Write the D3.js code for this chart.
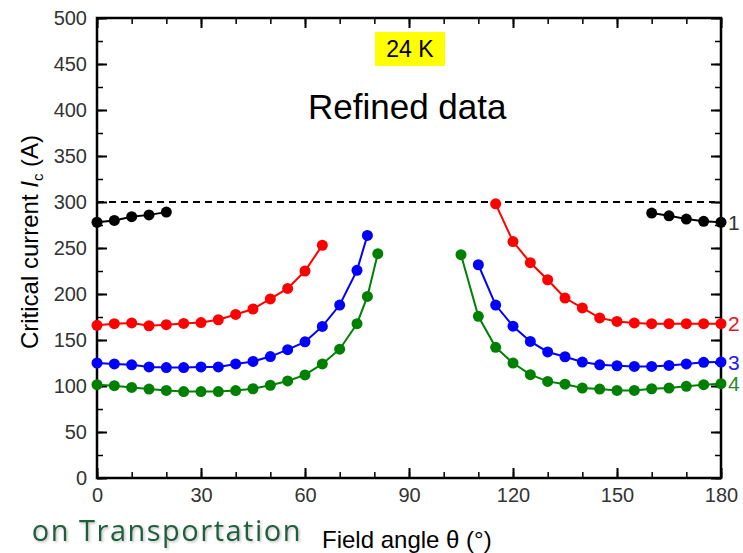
<!DOCTYPE html>
<html lang="en">
<head>
    <meta charset="UTF-8">
    <title>Critical current vs field angle</title>
    <style>
        body { margin: 0; background: #fff; }
        text { font-family: 'Liberation Sans', Arial, sans-serif; }
        .tick text { font-size: 20px; fill: #333; }
        .axis path, .axis line { stroke: #000; }
        .line { fill: none; stroke-width: 2px; }
    </style>
</head>
<body>

<script src="https://d3js.org/d3.v7.min.js"></script>
<script>

    const width = 743;
    const height = 553;
    const box = {'left': 97, 'right': 721, 'top': 18, 'bottom': 478};

    // series 1 (black)
    const angles1a = [0, 5, 10, 15, 20];
    const values1a = [278, 280, 284, 286, 289];
    const angles1b = [160, 165, 170, 175, 180];
    const values1b = [288, 285, 281.5, 279, 278];

    // series 2 (red)
    const angles2a = [0, 5, 10, 15, 20, 25, 30, 35, 40, 45, 50, 55, 60, 65];
    const values2a = [166, 167.7, 168.5, 165.5, 166.6, 168, 169, 172, 177.8, 183.7, 194.6, 206, 225, 253];
    const angles2b = [115, 120, 125, 130, 135, 140, 145, 150, 155, 160, 165, 170, 175, 180];
    const values2b = [298, 257, 234, 215.5, 195.6, 184.8, 174, 170.2, 168.5, 167.7, 167.7, 167.7, 167.7, 167.7];

    // series 3 (blue)
    const angles3a = [0, 5, 10, 15, 20, 25, 30, 35, 40, 45, 50, 55, 60, 65, 70, 75, 78];
    const values3a = [125, 124, 123, 120.7, 120, 120, 120.7, 120.7, 124, 126.7, 132, 139.5, 148, 164.8, 188, 225.7, 263.7];
    const angles3b = [110, 115, 120, 125, 130, 135, 140, 145, 150, 155, 160, 165, 170, 175, 180];
    const values3b = [231.8, 188, 165, 148.5, 137, 131.8, 126, 123, 122, 121.3, 121.3, 122.4, 124, 125.7, 126];

    // series 4 (green)
    const angles4a = [0, 5, 10, 15, 20, 25, 30, 35, 40, 45, 50, 55, 60, 65, 70, 75, 78, 81];
    const values4a = [101.4, 100.3, 98.5, 96.7, 95.2, 94, 94, 94, 95, 97, 100.8, 105.5, 112, 124, 140, 167.7, 197.4, 243.8];
    const angles4b = [105, 110, 115, 120, 125, 130, 135, 140, 145, 150, 155, 160, 165, 170, 175, 180];
    const values4b = [242.7, 175.7, 142, 125, 112.3, 105, 102, 97.8, 96.7, 95.2, 95.2, 97, 97.8, 99.6, 101.4, 102.5];

    const seriesNames = ['1', '2', '3', '4'];
    const seriesColours = ['#000000', '#ff0000', '#0000ff', '#008000'];
    const labelColours = ['#333333', '#e8141c', '#1a1aff', '#2a8a2a'];

    const xTicks = [0, 30, 60, 90, 120, 150, 180];
    const yTicks = [0, 50, 100, 150, 200, 250, 300, 350, 400, 450, 500];
    const limitLine = 300;

    const series = [
        [[angles1a, values1a], [angles1b, values1b]],
        [[angles2a, values2a], [angles2b, values2b]],
        [[angles3a, values3a], [angles3b, values3b]],
        [[angles4a, values4a], [angles4b, values4b]]
    ];

    let svg = d3.select('body').append('svg')
        .attr('width', width)
        .attr('height', height);

    let x = d3.scaleLinear().domain([0, 180]).range([box.left, box.right]);
    let y = d3.scaleLinear().domain([0, 500]).range([box.bottom, box.top]);

    let minorX = d3.range(0, 181, 10);
    let minorY = d3.range(0, 501, 25);

    // ticks point inward on all four sides
    function drawAxis(axis, transform, minor, major, showLabels) {
        let g = svg.append('g')
            .attr('class', 'axis')
            .attr('transform', transform);
        g.call(axis.tickValues(minor).tickSize(6).tickFormat(''));
        g.selectAll('.tick line').attr('stroke-width', 1.5);
        g.select('.domain').remove();
        let g2 = svg.append('g')
            .attr('class', 'axis')
            .attr('transform', transform);
        g2.call(axis.tickValues(major).tickSize(10).tickFormat(showLabels ? d3.format('d') : ''));
        g2.selectAll('.tick line').attr('stroke-width', 2);
        g2.select('.domain').remove();
        return g2;
    }

    let bottomAx = drawAxis(d3.axisTop(x), 'translate(0,' + box.bottom + ')', minorX, xTicks, true);
    bottomAx.selectAll('.tick text').attr('dy', '0.71em').attr('y', 10);
    drawAxis(d3.axisBottom(x), 'translate(0,' + box.top + ')', minorX, xTicks, false);
    let leftAx = drawAxis(d3.axisRight(y), 'translate(' + box.left + ',0)', minorY, yTicks, true);
    leftAx.selectAll('.tick text').attr('text-anchor', 'end').attr('x', -10);
    drawAxis(d3.axisLeft(y), 'translate(' + box.right + ',0)', minorY, yTicks, false);

    // frame
    svg.append('rect')
        .attr('x', box.left)
        .attr('y', box.top)
        .attr('width', box.right - box.left)
        .attr('height', box.bottom - box.top)
        .style('fill', 'none')
        .style('stroke', '#000')
        .style('stroke-width', 2.5);

    // dashed reference line
    svg.append('line')
        .attr('x1', x(0))
        .attr('x2', x(180) - 6)
        .attr('y1', y(limitLine))
        .attr('y2', y(limitLine))
        .style('stroke', '#000')
        .style('stroke-width', 2)
        .style('stroke-dasharray', '7,5');

    let line = d3.line()
        .x(function(d) { return x(d[0]); })
        .y(function(d) { return y(d[1]); });

    for (let s = 0; s < series.length; s++) {
        for (let p = 0; p < series[s].length; p++) {
            let pts = d3.zip(series[s][p][0], series[s][p][1]);
            svg.append('path')
                .datum(pts)
                .classed('line', true)
                .style('stroke', seriesColours[s])
                .attr('d', line);
            svg.append('g').selectAll('circle')
                .data(pts)
                .enter().append('circle')
                .attr('cx', function(d) { return x(d[0]); })
                .attr('cy', function(d) { return y(d[1]); })
                .attr('r', 5.5)
                .style('fill', seriesColours[s]);
        }
        let last = series[s][1][1];
        svg.append('text')
            .attr('x', box.right + 7)
            .attr('y', y(last[last.length - 1]))
            .attr('dy', '0.36em')
            .text(seriesNames[s])
            .style('font-size', '21px')
            .style('fill', labelColours[s]);
    }

    // temperature tag
    svg.append('rect')
        .attr('x', 375)
        .attr('y', 32)
        .attr('width', 70)
        .attr('height', 34)
        .style('fill', '#ffff00');
    svg.append('text')
        .attr('x', 410)
        .attr('y', 57)
        .attr('text-anchor', 'middle')
        .text('24 K')
        .style('font-size', '23px')
        .style('fill', '#000');

    svg.append('text')
        .attr('x', 308)
        .attr('y', 119)
        .text('Refined data')
        .style('font-size', '35px')
        .style('fill', '#000');

    // axis titles
    let yLabel = svg.append('text')
        .attr('transform', 'translate(38,242) rotate(-90)')
        .attr('text-anchor', 'middle')
        .style('font-size', '24px')
        .style('fill', '#000');
    yLabel.append('tspan').text('Critical current ');
    yLabel.append('tspan').text('I').style('font-style', 'italic');
    yLabel.append('tspan').text('c').attr('dy', 5).style('font-size', '15px');
    yLabel.append('tspan').text(' (A)').attr('dy', -5);

    svg.append('text')
        .attr('x', 322)
        .attr('y', 548)
        .text('Field angle \u03b8 (\u00b0)')
        .style('font-size', '24px')
        .style('fill', '#000');

    // slide footer text behind the chart
    let defs = svg.append('defs');
    defs.append('filter').attr('id', 'shadow')
        .append('feDropShadow')
        .attr('dx', 1.5).attr('dy', 1.5).attr('stdDeviation', 1)
        .attr('flood-color', '#888').attr('flood-opacity', 0.5);

    svg.append('text')
        .attr('x', 302)
        .attr('y', 541)
        .attr('text-anchor', 'end')
        .text('on Transportation')
        .attr('filter', 'url(#shadow)')
        .style('font-family', "'Open Sans', sans-serif")
        .style('font-size', '29px')
        .style('letter-spacing', '1.5px')
        .style('fill', '#1f5e3d');

</script>

</body>
</html>
